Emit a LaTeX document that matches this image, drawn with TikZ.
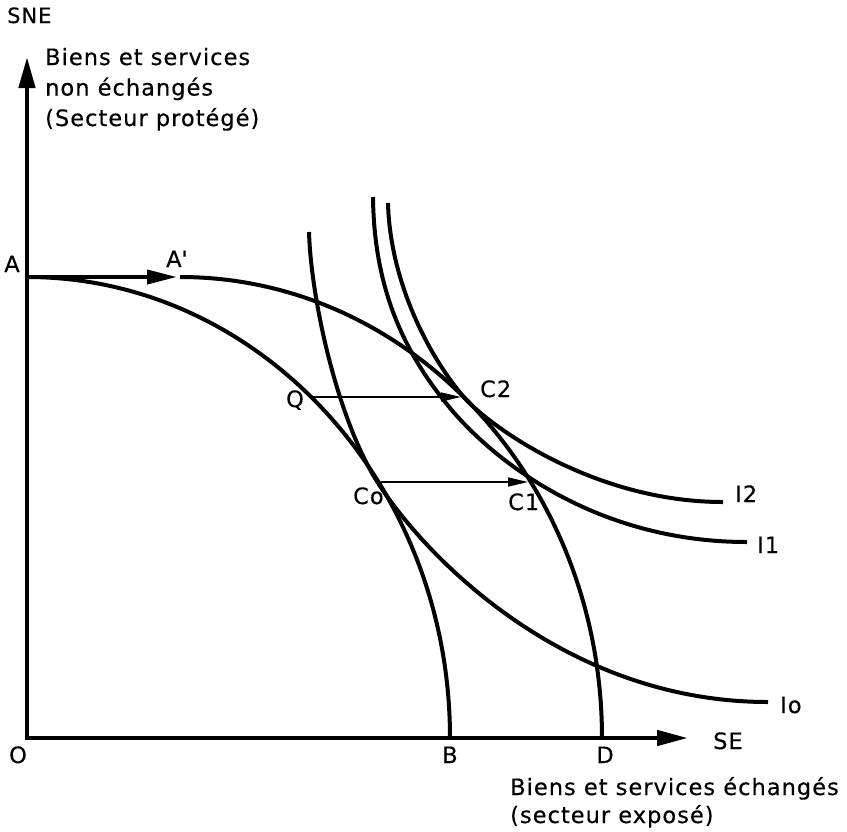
\documentclass[tikz,border=0pt]{standalone}
\usepackage{fontspec}
\setmainfont[LetterSpace=4.5,FakeBold=0.4]{DejaVu Sans}
\usetikzlibrary{arrows.meta}
\begin{document}
\begin{tikzpicture}[x=1pt,y=-1pt,
  axisline/.style={line width=4.5pt, line join=miter},
  curveline/.style={line width=4pt},
  movearrow/.style={line width=1.6pt, -{Triangle[length=20pt,width=9pt]}},
  lab/.style={inner sep=0pt, font=\fontsize{22.5}{30}\selectfont}]
\useasboundingbox (0,0) rectangle (847,831);
% axes
\coordinate (O) at (27,738);
\coordinate (ytip) at (27,57);
\coordinate (xtip) at (688,738);
\draw[axisline, {Triangle[length=31pt,width=16pt]}-{Triangle[length=31pt,width=15pt]}] (ytip) -- (O) -- (xtip);
% points
\coordinate (A) at (27,277);
\coordinate (Ap) at (177,277);
\coordinate (ApS) at (180,277);
\coordinate (B) at (450,738);
\coordinate (D) at (602,738);
\coordinate (Q) at (313,397);
\coordinate (C2) at (461,397);
\coordinate (Co) at (381,482);
\coordinate (C1) at (528,482);
% A -> A'
\draw[line width=4pt, -{Triangle[length=30pt,width=14pt]}] (A) -- (Ap);
% production frontiers
\draw[curveline] (A) .. controls (260,277) and (450,484) .. (B);
\draw[curveline] (ApS) .. controls (413,277) and (602,484) .. (D);
% indifference curves
\draw[curveline] (309,232) .. controls (311,300) and (338,421) .. (378,483)
                 .. controls (428,560.5) and (568,702) .. (768,702);
\draw[curveline] (373,197) .. controls (374,290) and (405,354) .. (450,408)
                 .. controls (495,462) and (597,542) .. (747,542);
\draw[curveline] (388,203) .. controls (390,280) and (427,353) .. (462,395)
                 .. controls (487,425) and (593,502) .. (723,502);
% shift arrows
\draw[movearrow] (Q) -- (C2);
\draw[movearrow] (Co) -- (C1);
% labels
\node[lab, anchor=base west, font=\fontsize{21}{28}\selectfont] (lSNE) at (7,23) {SNE};
\node[lab, anchor=base west] (ly1) at (45,65) {Biens et services};
\node[lab, anchor=base west] (ly2) at (45,95.5) {non échangés};
\node[lab, anchor=base west] (ly3) at (45,126) {(Secteur protégé)};
\node[lab, anchor=base] (lA) at (12,272) {A};
\node[lab, anchor=base west] (lAp) at (166,267) {A\textquotesingle};
\node[lab, anchor=base] (lO) at (18,763) {O};
\node[lab, anchor=base] (lB) at (450,763) {B};
\node[lab, anchor=base] (lD) at (605,763) {D};
\node[lab, anchor=base west] (lSE) at (713,749) {SE};
\node[lab, anchor=base] (lQ) at (295,407) {Q};
\node[lab, anchor=base west] (lCo) at (353,504) {Co};
\node[lab, anchor=base west] (lC2) at (480,397) {C2};
\node[lab, anchor=base west] (lC1) at (508,510) {C1};
\node[lab, anchor=base west] (lI2) at (735,502) {I2};
\node[lab, anchor=base west] (lI1) at (757,553) {I1};
\node[lab, anchor=base west] (lIo) at (780,713) {Io};
\node[lab, anchor=base west] (lx1) at (510,795) {Biens et services échangés};
\node[lab, anchor=base west] (lx2) at (510,823) {(secteur exposé)};
\end{tikzpicture}
\end{document}
